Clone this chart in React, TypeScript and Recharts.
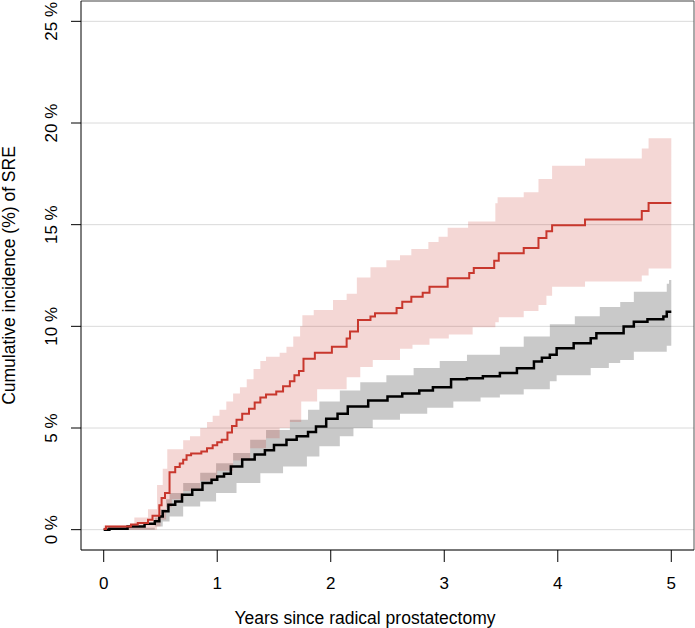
import { ComposedChart, Area, Line, XAxis, YAxis, CartesianGrid, ReferenceLine } from "recharts"

// cumulative incidence (%) step curves, [years, percent]
const redCurve: [number, number][] = [
  [0, 0.03], [0.02, 0.16], [0.24, 0.25], [0.3, 0.33], [0.39, 0.49], [0.43, 0.69], [0.49, 1.2], [0.51, 1.56],
  [0.54, 1.8], [0.58, 2.82], [0.63, 3.08], [0.67, 3.25], [0.7, 3.44], [0.73, 3.66], [0.77, 3.75], [0.86, 3.85],
  [0.91, 4.01], [0.96, 4.15], [1.0, 4.3], [1.04, 4.42], [1.09, 4.78], [1.13, 5.1], [1.17, 5.4], [1.22, 5.7],
  [1.28, 5.95], [1.33, 6.25], [1.38, 6.5], [1.43, 6.65], [1.52, 6.8], [1.58, 7.05], [1.64, 7.3], [1.68, 7.6],
  [1.72, 7.8], [1.76, 8.4], [1.86, 8.7], [2.01, 9.0], [2.14, 9.4], [2.17, 9.74], [2.24, 10.31], [2.35, 10.48],
  [2.39, 10.64], [2.58, 10.9], [2.63, 11.21], [2.71, 11.46], [2.81, 11.65], [2.87, 11.95], [3.03, 12.36],
  [3.22, 12.62], [3.26, 12.87], [3.44, 13.22], [3.48, 13.6], [3.7, 13.85], [3.83, 14.35], [3.9, 14.68],
  [3.95, 14.97], [4.24, 15.26], [4.74, 15.67], [4.8, 16.06], [5.0, 16.06],
]

const redUpper: [number, number][] = [
  [0, 0.2], [0.27, 0.6], [0.39, 1.0], [0.47, 2.2], [0.52, 3.0], [0.56, 3.95], [0.7, 4.4], [0.76, 4.6],
  [0.85, 5.0], [0.91, 5.3], [0.96, 5.6], [1.02, 5.9], [1.08, 6.3], [1.14, 6.7], [1.2, 7.0], [1.26, 7.4],
  [1.32, 7.9], [1.38, 8.3], [1.43, 8.5], [1.55, 8.7], [1.61, 9.0], [1.67, 9.5], [1.73, 10.0], [1.75, 10.55],
  [1.85, 10.8], [2.02, 11.3], [2.14, 11.6], [2.23, 12.4], [2.35, 12.9], [2.49, 13.25], [2.61, 13.5],
  [2.71, 13.8], [2.86, 14.15], [2.95, 14.4], [3.03, 14.85], [3.21, 15.15], [3.45, 16.05], [3.47, 16.35],
  [3.7, 16.6], [3.83, 17.25], [3.95, 17.9], [4.24, 18.25], [4.74, 18.75], [4.8, 19.25], [5.0, 19.25],
]

const redLower: [number, number][] = [
  [0, 0], [0.47, 0.15], [0.5, 0.5], [0.55, 1.1], [0.6, 1.5], [0.7, 1.9], [0.85, 2.4], [1.0, 2.9],
  [1.14, 3.4], [1.29, 4.0], [1.43, 4.5], [1.55, 5.0], [1.64, 5.3], [1.74, 6.3], [1.88, 6.9], [2.14, 7.5],
  [2.26, 8.0], [2.37, 8.35], [2.61, 8.9], [2.72, 9.1], [2.87, 9.4], [3.04, 9.6], [3.25, 9.95], [3.45, 10.2],
  [3.48, 10.45], [3.7, 10.75], [3.83, 11.05], [3.9, 11.5], [3.95, 11.95], [4.24, 12.2], [4.74, 12.5],
  [4.8, 12.85], [5.0, 12.85],
]

const blackCurve: [number, number][] = [
  [0, 0], [0.05, 0.05], [0.21, 0.16], [0.36, 0.29], [0.45, 0.41], [0.49, 0.65], [0.52, 0.9], [0.57, 1.23],
  [0.63, 1.39], [0.69, 1.72], [0.78, 1.96], [0.87, 2.29], [0.95, 2.46], [1.0, 2.62], [1.06, 2.75],
  [1.12, 3.11], [1.22, 3.45], [1.33, 3.7], [1.42, 3.9], [1.5, 4.17], [1.61, 4.42], [1.7, 4.6], [1.8, 4.8],
  [1.87, 5.07], [1.96, 5.45], [2.06, 5.7], [2.15, 6.06], [2.33, 6.35], [2.5, 6.55], [2.63, 6.7], [2.78, 6.85],
  [2.9, 7.0], [3.06, 7.4], [3.2, 7.45], [3.34, 7.55], [3.49, 7.7], [3.64, 7.94], [3.79, 8.27], [3.86, 8.45],
  [3.93, 8.6], [3.99, 8.92], [4.14, 9.17], [4.29, 9.41], [4.34, 9.66], [4.58, 9.99], [4.67, 10.23],
  [4.79, 10.35], [4.93, 10.48], [4.96, 10.72], [5.0, 10.72],
]

const grayUpper: [number, number][] = [
  [0, 0.1], [0.45, 0.6], [0.5, 1.0], [0.55, 1.5], [0.58, 1.8], [0.7, 2.3], [0.85, 2.8], [0.99, 3.27],
  [1.14, 3.77], [1.29, 4.42], [1.43, 4.9], [1.64, 5.4], [1.8, 5.9], [1.9, 6.3], [2.08, 6.85], [2.26, 7.25],
  [2.49, 7.6], [2.73, 7.95], [2.96, 8.3], [3.2, 8.6], [3.49, 9.0], [3.7, 9.5], [3.93, 10.1], [4.15, 10.5],
  [4.37, 10.95], [4.55, 11.2], [4.67, 11.7], [4.96, 12.1], [4.98, 12.28], [5.0, 12.28],
]

const grayLower: [number, number][] = [
  [0, 0], [0.45, 0.15], [0.52, 0.4], [0.58, 0.65], [0.7, 1.14], [0.85, 1.39], [0.99, 1.8], [1.17, 2.29],
  [1.38, 2.78], [1.58, 3.11], [1.79, 3.6], [1.9, 4.1], [2.08, 4.6], [2.2, 5.0], [2.37, 5.4], [2.61, 5.7],
  [2.85, 6.0], [3.08, 6.3], [3.32, 6.5], [3.49, 6.65], [3.7, 6.9], [3.93, 7.3], [3.99, 7.6], [4.29, 7.95],
  [4.45, 8.2], [4.55, 8.35], [4.67, 8.75], [4.96, 9.05], [5.0, 9.05],
]

const xTicks = [0, 1, 2, 3, 4, 5]
const yTicks = [0, 5, 10, 15, 20, 25]

const font = "'Liberation Sans', Arial, Helvetica, sans-serif"

// value of a step curve at time t (last point at or before t)
function stepAt(curve: [number, number][], t: number) {
  let v = curve[0][1]
  for (const [ct, cv] of curve) {
    if (ct <= t) v = cv
  }
  return v
}

// confidence ribbon as explicit steps: at each jump time repeat the previous level, then the new one
function band(lower: [number, number][], upper: [number, number][]) {
  const times = Array.from(new Set([...lower.map((p) => p[0]), ...upper.map((p) => p[0])])).sort((a, b) => a - b)
  const rows: { t: number; range: [number, number] }[] = []
  times.forEach((t, i) => {
    if (i > 0) {
      const prev = times[i - 1]
      rows.push({ t, range: [stepAt(lower, prev), stepAt(upper, prev)] })
    }
    rows.push({ t, range: [stepAt(lower, t), stepAt(upper, t)] })
  })
  return rows
}

const toRows = (curve: [number, number][]) => curve.map(([t, v]) => ({ t, v }))

const redRows = toRows(redCurve)
const blackRows = toRows(blackCurve)
const redBand = band(redLower, redUpper)
const grayBand = band(grayLower, grayUpper)

const YTick = (props: any) => {
  const { y, payload } = props
  return (
    <text transform={`translate(57, ${y}) rotate(-90)`} textAnchor="middle" fontSize={17} fill="#000" fontFamily={font}>
      {`${payload.value} %`}
    </text>
  )
}

const XTick = (props: any) => {
  const { x, payload } = props
  return (
    <text x={x} y={589} textAnchor="middle" fontSize={17} fill="#000" fontFamily={font}>
      {payload.value}
    </text>
  )
}

const XTitle = () => (
  <text x={365} y={624} textAnchor="middle" fontSize={17.5} fill="#000" fontFamily={font}>
    Years since radical prostatectomy
  </text>
)

export default function App() {
  return (
    <div style={{ position: "absolute", left: 0, top: 0, fontFamily: font }}>
      <ComposedChart width={695} height={628} margin={{ top: 1, right: 1, left: 0, bottom: 0 }}>
        <CartesianGrid vertical={false} stroke="#dadada" strokeWidth={1} />
        <XAxis
          type="number"
          dataKey="t"
          domain={[-0.2, 5.2]}
          ticks={xTicks}
          allowDataOverflow
          height={78}
          tickSize={12}
          stroke="#000"
          tickLine={{ stroke: "#000" }}
          tick={<XTick />}
          label={<XTitle />}
        />
        <YAxis
          type="number"
          domain={[-1, 26]}
          ticks={yTicks}
          allowDataOverflow
          width={81}
          tickSize={10}
          stroke="#000"
          tickLine={{ stroke: "#000" }}
          tick={<YTick />}
          label={{
            value: "Cumulative incidence (%) of SRE",
            angle: -90,
            position: "insideLeft",
            offset: 8.5,
            fontSize: 17.5,
            fill: "#000",
            style: { textAnchor: "middle" },
          }}
        />
        <ReferenceLine y={26} stroke="#555" strokeWidth={1} />
        <ReferenceLine x={5.2} stroke="#555" strokeWidth={1} />
        <Area
          data={grayBand}
          dataKey="range"
          type="linear"
          fill="#000"
          fillOpacity={0.21}
          stroke="none"
          isAnimationActive={false}
          activeDot={false}
        />
        <Area
          data={redBand}
          dataKey="range"
          type="linear"
          fill="#c8372d"
          fillOpacity={0.2}
          stroke="none"
          isAnimationActive={false}
          activeDot={false}
        />
        <Line
          data={blackRows}
          dataKey="v"
          type="stepAfter"
          stroke="#000"
          strokeWidth={2.5}
          dot={false}
          isAnimationActive={false}
        />
        <Line
          data={redRows}
          dataKey="v"
          type="stepAfter"
          stroke="#c8372d"
          strokeWidth={2}
          dot={false}
          isAnimationActive={false}
        />
      </ComposedChart>
    </div>
  )
}
